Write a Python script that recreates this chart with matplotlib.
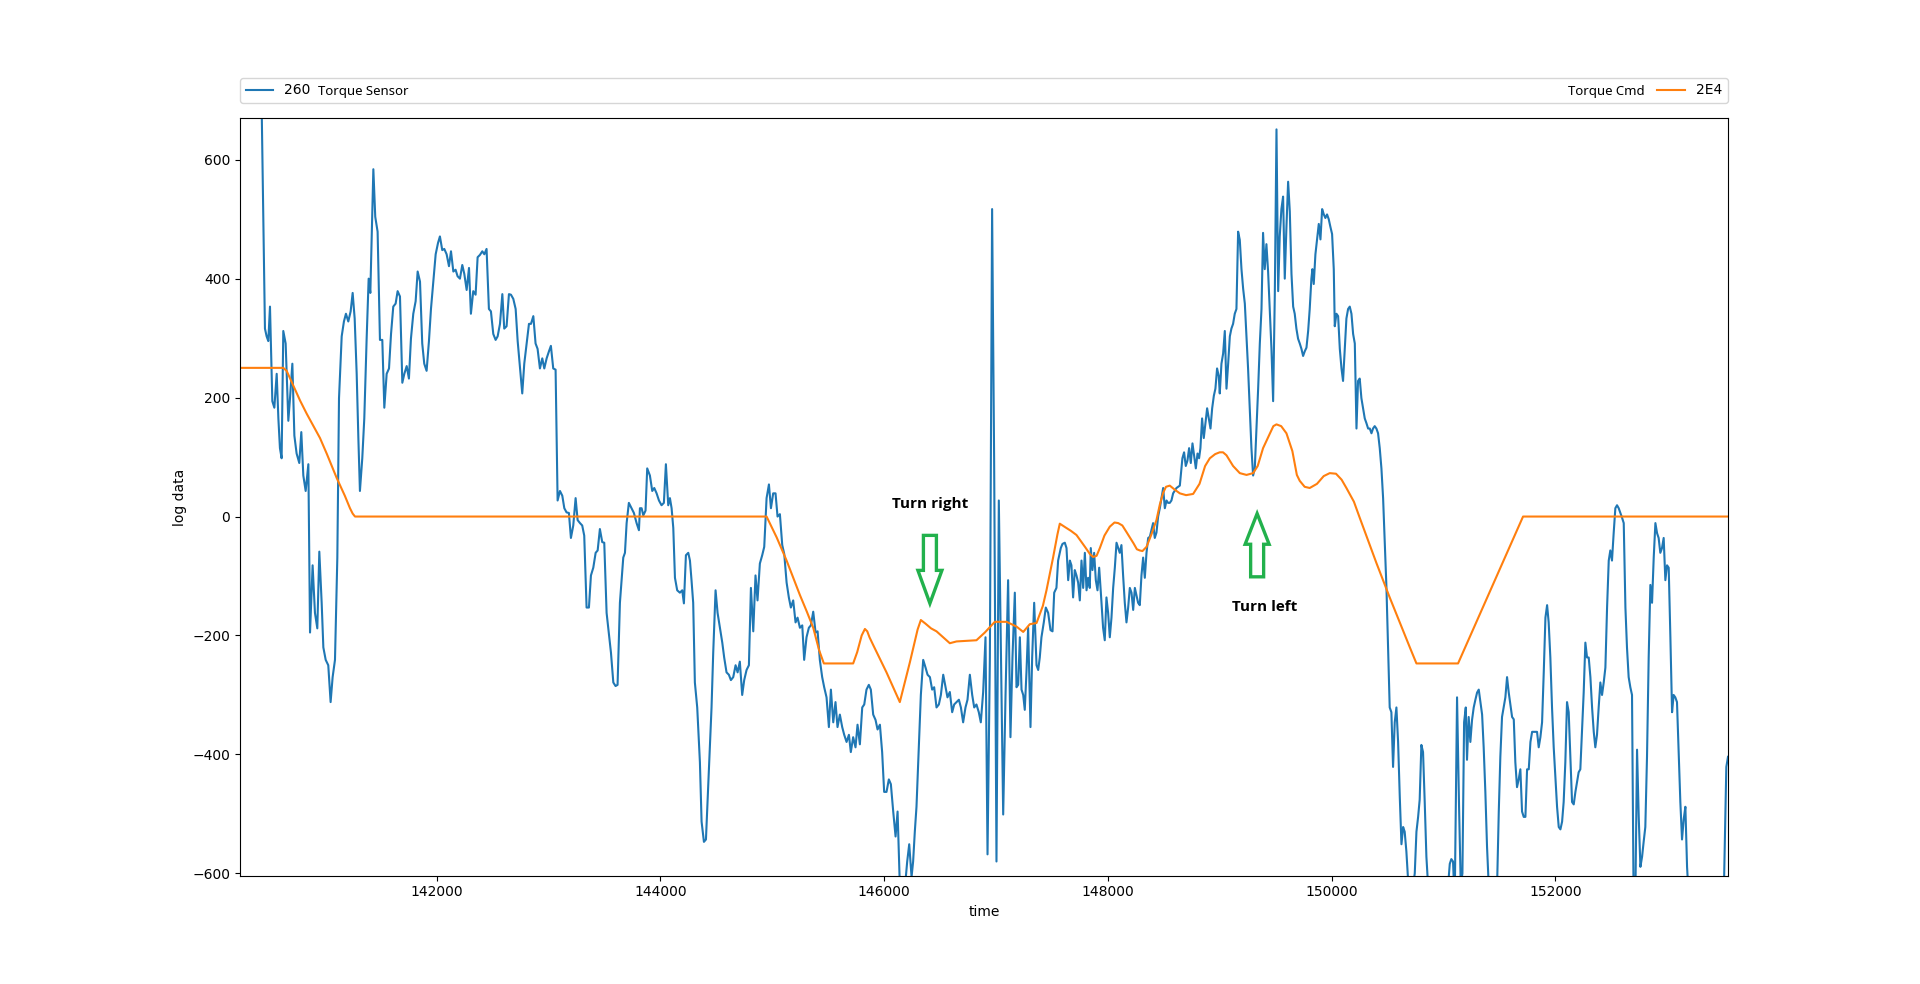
import numpy as np
import matplotlib.pyplot as plt
from matplotlib.patches import Polygon
from matplotlib.transforms import ScaledTranslation

# (time, value) readings of the torque sensor trace, split in chunks
sensor_a = [
    (140243, 1000), (140420, 900), (140466, 316), (140481, 303), (140496, 295), (140511, 353),
    (140532, 194), (140550, 183), (140571, 240), (140586, 165), (140600, 115), (140615, 98),
    (140630, 312), (140651, 291), (140675, 161), (140690, 199), (140711, 257), (140729, 136),
    (140749, 106), (140773, 90), (140791, 142), (140809, 69), (140830, 43), (140854, 88),
    (140869, -195), (140892, -82), (140913, -162), (140934, -188), (140952, -59), (140973, -145),
    (140988, -220), (141009, -241), (141032, -250), (141053, -312), (141071, -270), (141092, -241),
    (141113, -69), (141128, 199), (141152, 303), (141172, 328), (141190, 341), (141211, 328),
    (141232, 345), (141250, 376), (141268, 333), (141286, 240), (141301, 132), (141315, 43),
    (141336, 98), (141354, 165), (141375, 299), (141393, 400), (141408, 376), (141435, 584),
    (141452, 504), (141473, 479), (141494, 297), (141515, 297), (141533, 183), (141554, 240),
    (141575, 249), (141593, 307), (141613, 353), (141634, 358), (141652, 379), (141673, 370),
    (141694, 225), (141712, 240), (141733, 253), (141753, 232), (141771, 299), (141792, 341),
    (141813, 362), (141831, 412), (141852, 395), (141872, 291), (141890, 257), (141911, 245),
    (141932, 295), (141950, 349), (141971, 395), (141992, 441), (142013, 460), (142030, 471),
    (142051, 448), (142069, 450), (142090, 441), (142111, 421), (142129, 446), (142150, 412),
    (142170, 415), (142188, 404), (142209, 400), (142230, 423), (142248, 408), (142269, 381),
    (142290, 418), (142307, 341), (142328, 379), (142349, 373), (142367, 436), (142388, 440),
    (142409, 446), (142427, 441), (142447, 450), (142468, 349), (142486, 345), (142507, 307),
    (142528, 297), (142546, 303), (142567, 324), (142588, 374), (142605, 316), (142626, 320),
    (142647, 374), (142665, 373), (142686, 366), (142707, 349), (142725, 295), (142745, 253),
    (142766, 207), (142784, 257), (142805, 291), (142826, 324), (142844, 324), (142865, 337),
    (142885, 291), (142903, 282), (142924, 249), (142945, 266), (142963, 249), (142984, 266),
    (143005, 278), (143022, 287), (143043, 249), (143064, 247), (143082, 27), (143103, 43),
    (143124, 35), (143142, 14), (143162, 7), (143183, 6), (143201, -36), (143222, -15),
    (143243, 31), (143261, -6), (143282, -11), (143302, -15), (143320, -32), (143341, -153),
    (143362, -153), (143380, -99), (143401, -86), (143422, -61), (143440, -57), (143460, -21),
    (143481, -43), (143499, -44), (143520, -162), (143541, -199), (143559, -229), (143580, -279),
    (143600, -285), (143618, -283), (143639, -145),
]
sensor_b = [
    (143669, -69), (143684, -61), (143699, -11), (143719, 23), (143743, 14), (143764, 6),
    (143788, -11), (143809, -23), (143818, 14), (143833, 14), (143848, 2), (143868, 10),
    (143883, 81), (143907, 69), (143928, 43), (143946, 48), (143967, 39), (143988, 27),
    (144011, 19), (144032, 23), (144050, 88), (144071, 19), (144086, 31), (144101, 14),
    (144116, -19), (144131, -103), (144151, -124), (144175, -128), (144196, -124), (144211, -146),
    (144229, -65), (144250, -61), (144265, -74), (144279, -107), (144294, -145), (144309, -279),
    (144330, -321), (144354, -413), (144369, -513), (144390, -547), (144408, -543), (144422, -480),
    (144437, -413), (144458, -321), (144473, -229), (144494, -124), (144512, -162), (144533, -187),
    (144554, -212), (144571, -237), (144592, -262), (144613, -266), (144631, -275), (144652, -270),
    (144673, -250), (144691, -262), (144711, -244), (144732, -300), (144750, -275), (144771, -258),
    (144792, -250), (144810, -120), (144831, -193), (144851, -99), (144869, -141), (144890, -79),
    (144911, -65), (144929, -51), (144950, 31), (144971, 54), (144989, 14), (145009, 39),
    (145030, 39), (145048, 0), (145069, 4), (145090, -48), (145108, -63), (145129, -111),
    (145149, -136), (145167, -153), (145188, -141), (145209, -178), (145227, -170), (145248, -187),
    (145269, -183), (145286, -241), (145307, -203), (145328, -187), (145346, -183), (145367, -160),
    (145388, -195), (145406, -193), (145426, -241), (145447, -270), (145465, -287), (145486, -304),
    (145507, -354), (145525, -291), (145546, -346), (145566, -312), (145584, -354), (145605, -333),
    (145626, -354), (145644, -367), (145665, -379), (145686, -367), (145703, -396), (145724, -371),
    (145745, -388), (145763, -350), (145784, -383), (145805, -321), (145823, -316), (145843, -291),
    (145864, -283), (145882, -291), (145903, -333), (145924, -342), (145942, -358), (145963, -350),
    (145983, -396), (146001, -463), (146022, -463), (146043, -442), (146061, -450), (146082, -496),
    (146103, -538), (146121, -496), (146141, -620), (146162, -660), (146186, -625), (146207, -580),
    (146225, -551), (146246, -606), (146260, -580), (146275, -530), (146290, -488), (146311, -388),
    (146329, -300), (146350, -241), (146371, -254), (146389, -266), (146410, -270), (146430, -291),
    (146448, -287), (146469, -321), (146490, -316), (146508, -300), (146529, -266), (146550, -287),
    (146567, -304), (146588, -295), (146609, -329), (146627, -316), (146648, -312), (146669, -308),
    (146687, -321), (146707, -346), (146728, -321), (146746, -308), (146767, -266), (146788, -300),
    (146806, -321), (146826, -316), (146847, -329), (146865, -346), (146886, -295), (146907, -203),
    (146925, -568), (146946, -237), (146966, 517), (146984, 98), (147005, -580), (147026, 27),
]
sensor_c = [
    (147065, -501), (147086, -300), (147109, -107), (147130, -371), (147148, -237), (147169, -128),
    (147184, -287), (147199, -283), (147214, -203), (147229, -291), (147244, -300), (147258, -325),
    (147273, -262), (147288, -187), (147309, -354), (147324, -237), (147342, -145), (147363, -250),
    (147378, -258), (147392, -237), (147407, -203), (147428, -178), (147446, -153), (147467, -162),
    (147488, -191), (147506, -193), (147521, -128), (147541, -120), (147556, -74), (147580, -53),
    (147595, -46), (147616, -44), (147631, -53), (147646, -107), (147661, -74), (147675, -82),
    (147690, -136), (147705, -90), (147720, -99), (147735, -111), (147750, -141), (147765, -74),
    (147780, -120), (147795, -61), (147810, -124), (147824, -103), (147839, -120), (147848, -53),
    (147863, -90), (147878, -61), (147893, -107), (147908, -124), (147923, -86), (147938, -128),
    (147958, -187), (147973, -208), (147988, -136), (148003, -162), (148018, -203), (148033, -170),
    (148048, -120), (148063, -86), (148078, -44), (148093, -53), (148107, -61), (148122, -48),
    (148137, -99), (148152, -145), (148167, -178), (148182, -153), (148197, -120), (148212, -128),
    (148227, -157), (148242, -120), (148256, -132), (148271, -145), (148286, -149), (148301, -99),
    (148316, -69), (148331, -103), (148346, -61), (148361, -36), (148376, -34), (148390, -23),
    (148405, -11), (148420, -36), (148435, -27), (148450, 0), (148465, 14), (148480, 31),
    (148495, 48), (148510, 14), (148525, 27), (148539, 23), (148554, 23), (148569, 27),
    (148584, 39), (148614, 48), (148644, 52), (148667, 98), (148682, 108), (148697, 85),
    (148712, 94), (148727, 115), (148742, 90), (148757, 123), (148772, 102), (148787, 81),
    (148802, 106), (148816, 98), (148828, 115), (148843, 165), (148858, 132), (148873, 157),
    (148888, 182), (148903, 165), (148918, 148), (148933, 182), (148948, 203), (148962, 215),
    (148977, 249), (148992, 236), (149001, 207), (149016, 257), (149031, 274), (149046, 312),
    (149061, 215), (149076, 257), (149091, 303), (149105, 316), (149120, 324), (149135, 341),
    (149150, 349), (149165, 479), (149180, 465), (149195, 416), (149210, 383), (149225, 358),
    (149239, 307), (149254, 249), (149269, 182), (149284, 115), (149299, 69), (149314, 81),
    (149329, 148), (149344, 215), (149359, 291), (149374, 349), (149388, 477), (149403, 416),
    (149418, 458), (149433, 412), (149448, 349), (149463, 282), (149478, 194), (149493, 374),
    (149508, 651), (149523, 379), (149537, 471), (149552, 517), (149567, 538), (149582, 400),
    (149597, 487), (149612, 563), (149627, 513), (149642, 408), (149657, 353), (149671, 341),
    (149686, 316), (149701, 299), (149716, 291), (149731, 282), (149746, 270), (149761, 278),
    (149776, 284), (149791, 312), (149805, 349), (149820, 400), (149829, 416), (149841, 391),
    (149856, 441), (149871, 466), (149886, 492), (149901, 466), (149916, 517), (149931, 508),
    (149945, 502), (149960, 508), (149975, 500), (149990, 487), (150005, 475), (150020, 416),
    (150029, 320), (150044, 341), (150059, 337), (150074, 282), (150089, 249), (150103, 228),
    (150118, 282), (150133, 333), (150148, 349), (150163, 353), (150178, 341), (150193, 307),
    (150208, 291), (150223, 148), (150237, 228), (150252, 232), (150267, 199), (150282, 182),
    (150297, 165), (150312, 157), (150327, 148), (150342, 148), (150357, 140), (150371, 148),
    (150386, 152), (150401, 148), (150416, 140), (150431, 115), (150446, 81), (150461, 31),
    (150476, -44), (150491, -120), (150505, -220), (150520, -321), (150535, -329), (150550, -421),
    (150565, -346), (150580, -321), (150595, -379), (150610, -471),
]
sensor_d = [
    (150625, -551), (150640, -522), (150654, -530), (150669, -563), (150684, -610), (150699, -650),
    (150714, -650), (150729, -620), (150744, -600), (150759, -530), (150774, -505), (150788, -476),
    (150803, -384), (150818, -396), (150833, -480), (150848, -572), (150863, -620), (150878, -660),
    (150952, -670), (151027, -660), (151042, -620), (151057, -584), (151071, -576), (151086, -580),
    (151101, -650), (151122, -304), (151140, -488), (151155, -620), (151170, -600), (151185, -346),
    (151200, -321), (151211, -409), (151226, -337), (151241, -379), (151256, -342), (151271, -321),
    (151286, -308), (151301, -296), (151316, -291), (151331, -312), (151346, -333), (151360, -388),
    (151375, -463), (151390, -555), (151405, -620), (151429, -660), (151459, -660), (151480, -620),
    (151495, -496), (151509, -404), (151524, -337), (151539, -321), (151554, -304), (151569, -270),
    (151584, -296), (151599, -316), (151614, -337), (151629, -341), (151643, -413), (151658, -455),
    (151673, -442), (151688, -425), (151703, -496), (151718, -505), (151733, -505), (151748, -425),
    (151763, -425), (151778, -379), (151793, -362), (151807, -362), (151822, -362), (151837, -362),
    (151852, -388), (151867, -371), (151882, -346), (151897, -262), (151912, -170), (151927, -149),
    (151941, -178), (151956, -237), (151971, -321), (151986, -388), (152001, -438), (152016, -488),
    (152031, -522), (152046, -526), (152061, -513), (152075, -480), (152090, -413), (152105, -312),
    (152120, -329), (152135, -404), (152150, -480), (152165, -484), (152180, -463), (152195, -446),
    (152209, -430), (152224, -425), (152239, -362), (152254, -296), (152269, -212), (152284, -237),
    (152299, -237), (152314, -270), (152329, -321), (152344, -362), (152358, -388), (152373, -367),
    (152388, -321), (152403, -279), (152418, -300), (152433, -279), (152448, -254), (152463, -153),
    (152478, -74), (152492, -57), (152507, -74), (152522, -28), (152537, 14), (152552, 19),
    (152567, 14), (152582, 6), (152597, -2), (152612, -11), (152627, -153), (152641, -220),
    (152656, -270), (152671, -287), (152686, -300), (152701, -660), (152716, -640), (152731, -392),
    (152746, -505), (152761, -589), (152776, -572), (152790, -547), (152805, -522), (152820, -404),
    (152835, -237), (152850, -115), (152865, -145), (152880, -69), (152895, -11), (152910, -28),
    (152924, -36), (152939, -61), (152954, -53), (152969, -36), (152984, -107), (152999, -82),
    (153014, -86), (153029, -203), (153044, -329), (153058, -300), (153073, -304), (153088, -312),
    (153103, -396), (153118, -480), (153133, -543), (153148, -509), (153163, -488), (153178, -589),
    (153193, -640), (153291, -680), (153410, -680), (153508, -620), (153529, -421), (153544, -404),
]

# torque command trace
cmd_points = [
    (140243, 250), (140630, 250), (140660, 245), (140720, 220), (140780, 195), (140839, 173),
    (140958, 132), (141020, 105), (141107, 65), (141180, 35), (141226, 14), (141250, 5),
    (141271, 0), (144950, 0), (145040, -35), (145129, -74), (145248, -132), (145310, -160),
    (145367, -187), (145420, -225), (145462, -247), (145724, -247), (145760, -228), (145800, -200),
    (145829, -189), (145850, -193), (145870, -203), (145903, -216), (146022, -262), (146141, -312),
    (146231, -245), (146300, -190), (146329, -174), (146370, -180), (146420, -188), (146469, -193),
    (146588, -213), (146648, -210), (146826, -208), (146901, -195), (146990, -177), (147095, -177),
    (147184, -185), (147244, -194), (147303, -181), (147363, -179), (147420, -150), (147452, -124),
    (147510, -70), (147550, -30), (147571, -12), (147620, -18), (147670, -24), (147720, -31),
    (147800, -52), (147840, -63), (147869, -68), (147900, -66), (147929, -53), (147970, -32),
    (148018, -17), (148060, -10), (148093, -11), (148130, -15), (148167, -26), (148230, -45),
    (148260, -55), (148286, -57), (148310, -58), (148346, -51), (148390, -30), (148435, -6),
    (148465, 20), (148495, 40), (148520, 50), (148554, 52), (148600, 45), (148644, 39),
    (148700, 36), (148763, 38), (148820, 55), (148870, 85), (148912, 98), (148960, 105),
    (149000, 108), (149030, 108), (149061, 103), (149120, 85), (149180, 73), (149240, 70),
    (149299, 73), (149340, 85), (149388, 115), (149450, 140), (149480, 152), (149508, 155),
    (149550, 152), (149597, 140), (149650, 110), (149690, 70), (149716, 60), (149760, 50),
    (149805, 48), (149870, 55), (149930, 68), (149984, 73), (150040, 72), (150090, 62),
    (150133, 48), (150200, 25), (150252, -2), (150401, -78), (150520, -136), (150610, -178),
    (150700, -220), (150759, -247), (151131, -247), (151712, 0), (153544, 0),
]

sensor_label = "260"
cmd_label = "2E4"
notes = [("Turn right", 146409, 21), ("Turn left", 149403, -152)]
arrow_tips = [(146410, -146, "down"), (149335, 5, "up")]

fig = plt.figure(figsize=(19.2, 9.84), dpi=100)
ax = fig.add_subplot(111)

sensor = np.array(sensor_a + sensor_b + sensor_c + sensor_d)
cmd = np.array(cmd_points)
ax.plot(sensor[:, 0], sensor[:, 1], label=sensor_label)
ax.plot(cmd[:, 0], cmd[:, 1], label=cmd_label)

ax.set_xlim(140243, 153544)
ax.set_ylim(-604, 670)
ax.set_xlabel("time")
ax.set_ylabel("log data")

ax.legend(bbox_to_anchor=(0., 1.02, 1., .102), loc="lower left", ncol=2,
          mode="expand", borderaxespad=0.)
fig.text(318 / 1920, 1 - 91 / 984, "Torque Sensor", fontsize=9.5,
         family="Noto Sans", va="center")
fig.text(1645 / 1920, 1 - 91 / 984, "Torque Cmd", fontsize=9.5,
         family="Noto Sans", va="center", ha="right")

for txt, x, y in notes:
    ax.text(x, y, txt, ha="center", va="center", fontsize=11,
            fontweight="bold", family="Open Sans")

# hollow block arrows, shape given in pixels around the tip
down_shape = np.array([(0, 0), (-12, 33), (-6.5, 33), (-6.5, 68), (6.5, 68), (6.5, 33), (12, 33)])
for x, y, way in arrow_tips:
    shape = down_shape if way == "down" else down_shape * [1, -0.93]
    tr = fig.dpi_scale_trans + ScaledTranslation(x, y, ax.transData)
    ax.add_patch(Polygon(shape / 100, closed=True, transform=tr, fc="none",
                         ec="#22b14c", lw=2.4, zorder=5))

fig.savefig("out.png")
